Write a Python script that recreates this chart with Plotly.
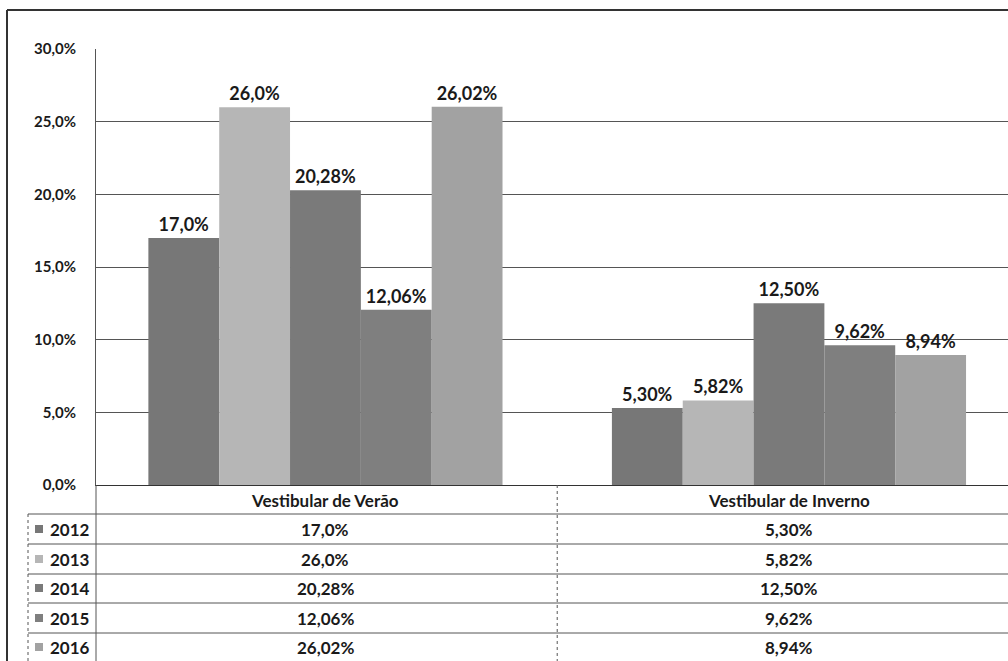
import plotly.graph_objects as go

categorias = ["Vestibular de Verão", "Vestibular de Inverno"]
anos = ["2012", "2013", "2014", "2015", "2016"]
verao = [17.0, 26.0, 20.28, 12.06, 26.02]
inverno = [5.30, 5.82, 12.50, 9.62, 8.94]
rot_verao = ["17,0%", "26,0%", "20,28%", "12,06%", "26,02%"]
rot_inverno = ["5,30%", "5,82%", "12,50%", "9,62%", "8,94%"]
cores = ["#777777", "#b6b6b6", "#7a7a7a", "#7f7f7f", "#a2a2a2"]

W, H = 1008, 661
L, T, B = 96, 49, 485  # plot area in pixels
FONT = "Lato"

def px_x(p):
    return (p - L) / (W - L)

def px_y(p):
    return (B - p) / (B - T)

fig = go.Figure()
for i, ano in enumerate(anos):
    fig.add_trace(go.Bar(
        x=[0, 1], y=[verao[i], inverno[i]], name=ano,
        marker=dict(color=cores[i], line=dict(width=0)),
        text=[rot_verao[i], rot_inverno[i]], textposition="outside",
        textfont=dict(family=FONT, size=18, color="#1a1a1a", weight="bold"),
        cliponaxis=False, showlegend=False))

shapes = []
line = dict(color="#555555", width=1)
# moldura externa
shapes.append(dict(type="line", xref="paper", yref="paper", x0=px_x(7), x1=px_x(W + 5),
                   y0=px_y(10), y1=px_y(10), line=dict(color="#333333", width=2)))
shapes.append(dict(type="line", xref="paper", yref="paper", x0=px_x(7), x1=px_x(7),
                   y0=px_y(10), y1=px_y(H + 5), line=dict(color="#333333", width=2)))

# tabela de dados
row_lines = [514, 544, 574, 603, 633]
for r in row_lines:
    shapes.append(dict(type="line", xref="paper", yref="paper", x0=px_x(28), x1=px_x(W + 5),
                       y0=px_y(r), y1=px_y(r), line=line))
shapes.append(dict(type="line", xref="paper", yref="paper", x0=px_x(28), x1=px_x(28),
                   y0=px_y(514), y1=px_y(H + 5), line=dict(color="#555555", width=1, dash="dot")))
shapes.append(dict(type="line", xref="paper", yref="paper", x0=0, x1=0,
                   y0=px_y(B), y1=px_y(H + 5), line=line))
shapes.append(dict(type="line", xref="x", yref="paper", x0=0.5, x1=0.5,
                   y0=px_y(B), y1=px_y(H + 5), line=dict(color="#555555", width=1, dash="dot")))

annotations = []
tfont = dict(family=FONT, size=17, color="#1a1a1a", weight="bold")
for j, cat in enumerate(categorias):
    annotations.append(dict(x=j, y=px_y(500), xref="x", yref="paper", text=cat,
                            showarrow=False, xanchor="center", yanchor="middle", font=tfont))
row_centers = [529, 559, 588, 618, 647]
for i, ano in enumerate(anos):
    yc = row_centers[i]
    shapes.append(dict(type="rect", xref="paper", yref="paper", x0=px_x(35), x1=px_x(43),
                       y0=px_y(yc - 4), y1=px_y(yc + 4), fillcolor=cores[i], line=dict(width=0)))
    annotations.append(dict(x=px_x(48), y=px_y(yc), xref="paper", yref="paper", text=ano,
                            showarrow=False, xanchor="left", yanchor="middle", font=tfont))
    annotations.append(dict(x=0, y=px_y(yc), xref="x", yref="paper", text=rot_verao[i],
                            showarrow=False, xanchor="center", yanchor="middle", font=tfont))
    annotations.append(dict(x=1, y=px_y(yc), xref="x", yref="paper", text=rot_inverno[i],
                            showarrow=False, xanchor="center", yanchor="middle", font=tfont))

fig.update_layout(
    width=W, height=H,
    margin=dict(l=L, r=0, t=T, b=H - B, pad=0),
    paper_bgcolor="white", plot_bgcolor="white",
    barmode="group", bargap=0.236, bargroupgap=0,
    separators=",.",
    shapes=shapes, annotations=annotations,
    xaxis=dict(range=[-0.495, 1.4725], showticklabels=False, showgrid=False, zeroline=False,
               showline=True, linecolor="#333333", linewidth=1, fixedrange=True),
    yaxis=dict(range=[0, 30], dtick=5, tickformat=".1f", ticksuffix="%",
               showgrid=True, gridcolor="#555555", gridwidth=1, zeroline=False,
               showline=True, linecolor="#555555", linewidth=1, ticks="",
               ticklabelstandoff=16,
               tickfont=dict(family=FONT, size=15, color="#1a1a1a", weight="bold")),
)

# a página tem margem de 8px no body por padrão; zera para a figura ocupar a janela
fig.write_html("out.html", config={"displayModeBar": False},
               post_script="document.body.style.margin='0';document.body.style.overflow='hidden';")
